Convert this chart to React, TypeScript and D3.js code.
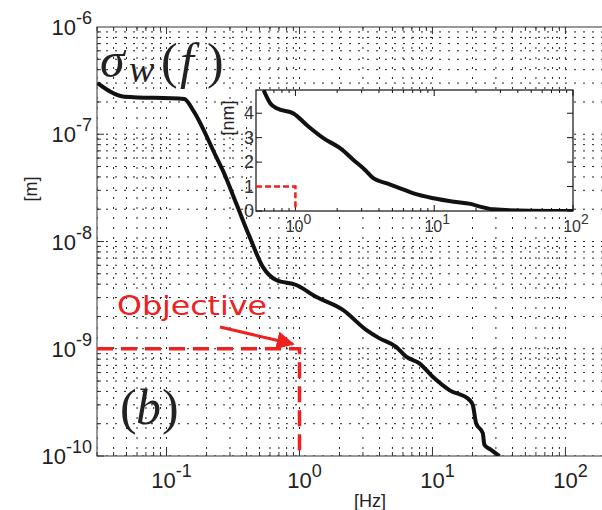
import React from "react";
import * as d3 from "d3";

// Main curve sigma_w(f) [Hz, m]
const mainFreq = [0.0303, 0.0483, 0.136, 0.158, 0.236, 0.265, 0.334, 0.421, 0.53, 0.668, 0.945, 1.33, 2.12, 3.17, 4.0, 5.33, 6.34, 7.98, 10.05, 13.4, 19.0, 20.1, 21.3, 23.9, 24.6, 27.6, 31.9];
const mainSigma = [3.0e-7, 2.24e-7, 2.13e-7, 1.68e-7, 6.18e-8, 4.6e-8, 2.27e-8, 1.11e-8, 5.8e-9, 4.37e-9, 3.93e-9, 3.05e-9, 2.3e-9, 1.5e-9, 1.25e-9, 1.04e-9, 8.43e-10, 7.31e-10, 5.48e-10, 4.12e-10, 3.33e-10, 2.99e-10, 2.02e-10, 1.63e-10, 1.27e-10, 1.14e-10, 1.0e-10];

// Inset curve [Hz, nm]
const insetFreq = [0.59, 0.66, 0.74, 0.97, 1.21, 1.6, 2.11, 2.63, 3.19, 3.66, 4.57, 5.69, 7.1, 9.9, 13.8, 18.2, 21.4, 26.7, 49, 100];
const insetSigma = [4.94, 4.4, 4.19, 3.99, 3.51, 2.97, 2.56, 2.08, 1.67, 1.33, 1.13, 0.93, 0.72, 0.52, 0.38, 0.29, 0.18, 0.07, 0.01, 0.0];

const xMajorExp = [-1, 0, 1, 2];
const yMajorExp = [-10, -9, -8, -7, -6];
const insetXExp = [0, 1, 2];
const insetYTicks = [0, 1, 2, 3, 4];

const objectiveFreq = 1;
const objectiveSigma = 1e-9;
const insetObjective = 1;

export default function App() {
  const x = d3.scaleLog().domain([0.03, 224]).range([97, 612]);
  const y = d3.scaleLog().domain([1e-10, 1e-6]).range([456, 27]);
  const ix = d3.scaleLog().domain([0.52, 100]).range([256, 573]);
  const iy = d3.scaleLinear().domain([0, 4.95]).range([211, 90]);

  const [x0, x1] = x.range();
  const [y0, y1] = y.range();

  const xMinor: number[] = [];
  for (let e = -2; e <= 2; e++) for (let m = 1; m <= 9; m++) {
    const v = m * Math.pow(10, e);
    if (v >= 0.03 && v <= 224) xMinor.push(v);
  }
  const yMinor: number[] = [];
  for (let e = -10; e <= -7; e++) for (let m = 1; m <= 9; m++) yMinor.push(m * Math.pow(10, e));
  const ixMinor: number[] = [];
  for (let e = -1; e <= 1; e++) for (let m = 1; m <= 9; m++) {
    const v = m * Math.pow(10, e);
    if (v >= 0.52 && v <= 100) ixMinor.push(v);
  }
  ixMinor.push(100);

  const line = d3.line<number>().x((_, i) => x(mainFreq[i])).y((d) => y(d)).curve(d3.curveMonotoneX);
  const iline = d3.line<number>().x((_, i) => ix(insetFreq[i])).y((d) => iy(d)).curve(d3.curveMonotoneX);

  const isMajor = (v: number) => Math.abs(Math.log10(v) - Math.round(Math.log10(v))) < 1e-9;
  const axisColor = "#333";
  const red = "#ee2020";
  const serif = "'Liberation Serif', 'DejaVu Serif', serif";

  return (
    <svg width={602} height={510} style={{ position: "absolute", left: 0, top: 0, background: "#fff" }} fontFamily="'Liberation Sans', Arial, sans-serif">
      <defs>
        <clipPath id="clipMain"><rect x={x0} y={y1} width={x1 - x0} height={y0 - y1} /></clipPath>
        <clipPath id="clipInset"><rect x={256} y={90} width={317} height={121} /></clipPath>
        <marker id="arrow" viewBox="0 0 10 10" refX="9" refY="5" markerWidth="6" markerHeight="6" orient="auto">
          <path d="M0,0 L10,5 L0,10 z" fill={red} />
        </marker>
      </defs>
      <rect x={0} y={0} width={602} height={510} fill="#fff" />
      {/* grid */}
      <g clipPath="url(#clipMain)">
        {xMinor.map((v, i) => (
          <line key={"gx" + i} x1={x(v)} x2={x(v)} y1={y1} y2={y0} stroke="#222" strokeWidth={1} strokeDasharray="2,8" />
        ))}
        {yMinor.map((v, i) => (
          <line key={"gy" + i} x1={x0} x2={x1} y1={y(v)} y2={y(v)} stroke="#222" strokeWidth={1} strokeDasharray="2,7" />
        ))}
      </g>
      {/* ticks */}
      <g stroke={axisColor} strokeWidth={1}>
        {xMinor.map((v, i) => {
          const L = isMajor(v) ? 7 : 4;
          return (
            <g key={"tx" + i}>
              <line x1={x(v)} x2={x(v)} y1={y0} y2={y0 - L} />
              <line x1={x(v)} x2={x(v)} y1={y1} y2={y1 + L} />
            </g>
          );
        })}
        {yMinor.map((v, i) => {
          const L = isMajor(v) ? 7 : 4;
          return <line key={"ty" + i} x1={x0} x2={x0 + L} y1={y(v)} y2={y(v)} />;
        })}
      </g>
      <rect x={x0} y={y1} width={x1 - x0} height={y0 - y1} fill="none" stroke={axisColor} strokeWidth={1} />

      {/* y tick labels */}
      {yMajorExp.map((e) => (
        <text key={"yl" + e} x={92} y={y(Math.pow(10, e)) + 8} textAnchor="end" fontSize={22} fill="#222">
          10<tspan dy={-11} fontSize={18}>{String(e)}</tspan>
        </text>
      ))}
      {/* x tick labels */}
      {xMajorExp.map((e) => (
        <text key={"xl" + e} x={x(Math.pow(10, e)) + 5} y={488} textAnchor="middle" fontSize={22} fill="#222">
          10<tspan dy={-11} fontSize={18}>{String(e)}</tspan>
        </text>
      ))}
      <text x={370} y={507} textAnchor="middle" fontSize={18} fill="#222">[Hz]</text>
      <text transform="translate(37,189) rotate(-90)" textAnchor="middle" fontSize={18} fill="#222">[m]</text>

      {/* main curve */}
      <g clipPath="url(#clipMain)">
        <path d={line(mainSigma) || ""} fill="none" stroke="#111" strokeWidth={4} strokeLinejoin="round" />
        <path
          d={`M${x0},${y(objectiveSigma)} L${x(objectiveFreq)},${y(objectiveSigma)} L${x(objectiveFreq)},${y0}`}
          fill="none" stroke={red} strokeWidth={3.5} strokeDasharray="16,8"
        />
      </g>

      <text x={117} y={315} fontSize={27} fill={red} fontFamily="'DejaVu Sans', sans-serif" textLength={150} lengthAdjust="spacingAndGlyphs">Objective</text>
      <line x1={220} y1={327} x2={293} y2={344} stroke={red} strokeWidth={3} markerEnd="url(#arrow)" />

      {/* sigma_w(f) */}
      <g fontFamily={serif} fill="#222">
        <text x={100} y={77} fontSize={50} fontStyle="italic">σ</text>
        <text x={129} y={82} fontSize={38} fontStyle="italic">w</text>
        <text x={161} y={78} fontSize={50}>(</text>
        <text x={180} y={78} fontSize={50} fontStyle="italic">f</text>
        <text x={207} y={78} fontSize={50}>)</text>
      </g>
      {/* (b) */}
      <g fontFamily={serif} fill="#222" fontSize={50}>
        <text x={120} y={424}>(</text>
        <text x={136} y={424} fontStyle="italic">b</text>
        <text x={162} y={424}>)</text>
      </g>

      {/* inset */}
      <rect x={256} y={90} width={317} height={121} fill="#fff" stroke="#111" strokeWidth={1.2} />
      <g stroke="#111" strokeWidth={1}>
        {ixMinor.map((v, i) => {
          const L = isMajor(v) ? 6 : 3;
          return (
            <g key={"itx" + i}>
              <line x1={ix(v)} x2={ix(v)} y1={211} y2={211 - L} />
              <line x1={ix(v)} x2={ix(v)} y1={90} y2={90 + L} />
            </g>
          );
        })}
        {insetYTicks.map((v) => (
          <g key={"ity" + v}>
            <line x1={256} x2={262} y1={iy(v)} y2={iy(v)} />
            <line x1={573} x2={567} y1={iy(v)} y2={iy(v)} />
          </g>
        ))}
      </g>
      {insetYTicks.map((v) => (
        <text key={"iyl" + v} x={254} y={iy(v) + 6} textAnchor="end" fontSize={18} fill="#333">{v}</text>
      ))}
      {insetXExp.map((e) => (
        <text key={"ixl" + e} x={ix(Math.pow(10, e)) + 3} y={232} textAnchor="middle" fontSize={16} fill="#333">
          10<tspan dy={-8} fontSize={14}>{String(e)}</tspan>
        </text>
      ))}
      <text transform="translate(234,118) rotate(-90)" textAnchor="middle" fontSize={18} fill="#222">[nm]</text>
      <path
        d={`M${ix(0.52)},${iy(insetObjective)} L${ix(1)},${iy(insetObjective)} L${ix(1)},${iy(0)}`}
        fill="none" stroke={red} strokeWidth={2.5} strokeDasharray="6,3"
      />
      <path d={iline(insetSigma) || ""} fill="none" stroke="#111" strokeWidth={4} strokeLinejoin="round" clipPath="url(#clipInset)" />
    </svg>
  );
}
